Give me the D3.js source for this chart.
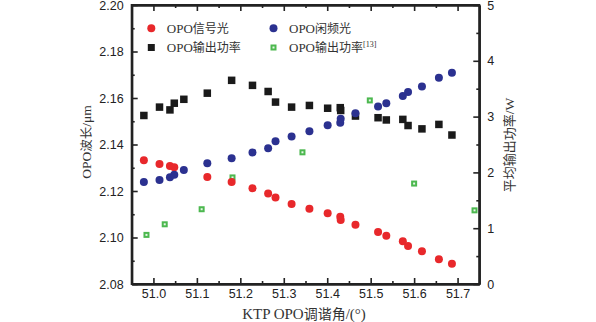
<!DOCTYPE html>
<html><head><meta charset="utf-8">
<script src="https://cdn.jsdelivr.net/npm/d3@7"></script>
<style>
html,body{margin:0;padding:0;background:#fff;}
svg{display:block;}
</style></head>
<body>
<svg id="c" width="596" height="322"></svg>
<script>
// ---- data ----
const angles = [50.978, 51.014, 51.038, 51.048, 51.070, 51.124, 51.180, 51.228, 51.264, 51.281, 51.318, 51.359, 51.401, 51.430, 51.431, 51.465, 51.517, 51.536, 51.574, 51.586, 51.618, 51.657, 51.687];
const signalAngles = [50.978, 51.014, 51.038, 51.048, 51.124, 51.180, 51.228, 51.264, 51.281, 51.318, 51.359, 51.401, 51.430, 51.431, 51.465, 51.517, 51.536, 51.574, 51.586, 51.618, 51.657, 51.687];
const signalWl = [2.1332, 2.1316, 2.1308, 2.1302, 2.1260, 2.1239, 2.1212, 2.1189, 2.1172, 2.1144, 2.1124, 2.1104, 2.1089, 2.1075, 2.1055, 2.1024, 2.1008, 2.0984, 2.0963, 2.0941, 2.0906, 2.0887];
const idlerWl = [2.1239, 2.1247, 2.1259, 2.1270, 2.1290, 2.1319, 2.1341, 2.1366, 2.1384, 2.1414, 2.1434, 2.1457, 2.1483, 2.1494, 2.1511, 2.1534, 2.1563, 2.1577, 2.1609, 2.1626, 2.1649, 2.1687, 2.1709];
const power = [3.02, 3.17, 3.12, 3.24, 3.31, 3.42, 3.65, 3.56, 3.45, 3.26, 3.17, 3.20, 3.15, 3.16, 3.11, 3.01, 2.98, 2.94, 2.95, 2.84, 2.78, 2.86, 2.67];
const refAngles = [50.984, 51.026, 51.111, 51.182, 51.343, 51.498, 51.600, 51.739];
const refPower = [0.88, 1.07, 1.34, 1.91, 2.36, 3.29, 1.80, 1.32];
const xTicks = [51.0, 51.1, 51.2, 51.3, 51.4, 51.5, 51.6, 51.7];
const yLTicks = [2.08, 2.10, 2.12, 2.14, 2.16, 2.18, 2.20];
const yRTicks = [0, 1, 2, 3, 4, 5];
const legendItems = [
  {name:"OPO", cjk:"信号光", sup:"", kind:"signal"},
  {name:"OPO", cjk:"闲频光", sup:"", kind:"idler"},
  {name:"OPO", cjk:"输出功率", sup:"", kind:"power"},
  {name:"OPO", cjk:"输出功率", sup:"[13]", kind:"ref"}
];

// ---- layout ----
const L = 131.7, R = 479.3, T = 5, B = 284;
const colors = {signal:"#e8282b", idler:"#2b3190", power:"#1a1a1a", ref:"#4cb84f"};
const svg = d3.select("#c");
const x = d3.scaleLinear().domain([50.95, 51.75]).range([L, R]);
const yL = d3.scaleLinear().domain([2.08, 2.20]).range([B, T]);
const yR = d3.scaleLinear().domain([0, 5]).range([B, T]);

const tickFont = "'Liberation Sans', Arial, sans-serif";
const serif = "'Liberation Serif', 'Times New Roman', serif";
const cjk = "'Noto Sans CJK SC', sans-serif";
const axCol = "#222";

function range(a, b, s){ const out=[]; for(let v=a; v<=b+1e-9; v+=s) out.push(+v.toFixed(4)); return out; }
const xMinor = range(50.95, 51.75, 0.1).filter(v=>v>50.95+1e-6 && v<51.75-1e-6);
const yLMinor = range(2.09, 2.19, 0.02);
const yRMinor = range(0.5, 4.5, 1);

// bottom axis
const gB = svg.append("g").attr("transform", `translate(0,${B})`)
  .call(d3.axisBottom(x).tickValues(xTicks).tickFormat(d3.format(".1f")).tickSizeInner(-6).tickSizeOuter(0).tickPadding(5));
const gBm = svg.append("g").attr("transform", `translate(0,${B})`)
  .call(d3.axisBottom(x).tickValues(xMinor).tickFormat("").tickSizeInner(-3).tickSizeOuter(0));
// top axis
const gT = svg.append("g").attr("transform", `translate(0,${T})`)
  .call(d3.axisTop(x).tickValues(xTicks).tickFormat("").tickSizeInner(-6).tickSizeOuter(0));
const gTm = svg.append("g").attr("transform", `translate(0,${T})`)
  .call(d3.axisTop(x).tickValues(xMinor).tickFormat("").tickSizeInner(-3).tickSizeOuter(0));
// left axis
const gL = svg.append("g").attr("transform", `translate(${L},0)`)
  .call(d3.axisLeft(yL).tickValues(yLTicks).tickFormat(d3.format(".2f")).tickSizeInner(-6).tickSizeOuter(0).tickPadding(8));
const gLm = svg.append("g").attr("transform", `translate(${L},0)`)
  .call(d3.axisLeft(yL).tickValues(yLMinor).tickFormat("").tickSizeInner(-3).tickSizeOuter(0));
// right axis
const gR = svg.append("g").attr("transform", `translate(${R},0)`)
  .call(d3.axisRight(yR).tickValues(yRTicks).tickFormat(d3.format("d")).tickSizeInner(-6).tickSizeOuter(0).tickPadding(8));
const gRm = svg.append("g").attr("transform", `translate(${R},0)`)
  .call(d3.axisRight(yR).tickValues(yRMinor).tickFormat("").tickSizeInner(-3).tickSizeOuter(0));

[gB,gBm,gT,gTm,gL,gLm,gR,gRm].forEach(g=>{
  g.select(".domain").attr("stroke", axCol).attr("stroke-width", 2);
  g.selectAll(".tick line").attr("stroke", axCol).attr("stroke-width", 1.6);
  g.selectAll(".tick text").attr("fill", "#222").style("font-family", tickFont).style("font-size", "12.5px");
});
// close the corners
svg.append("rect").attr("x", L).attr("y", T).attr("width", R-L).attr("height", B-T)
  .attr("fill","none").attr("stroke", axCol).attr("stroke-width", 2);

// ---- marks ----
const sq = 7.5, gsq = 6;
svg.append("g").selectAll("rect").data(angles.map((a,i)=>({a, v:power[i]}))).join("rect")
  .attr("x", d=>x(d.a)-sq/2).attr("y", d=>yR(d.v)-sq/2).attr("width", sq).attr("height", sq)
  .attr("fill", colors.power);
svg.append("g").selectAll("rect").data(refAngles.map((a,i)=>({a, v:refPower[i]}))).join("rect")
  .attr("x", d=>x(d.a)-gsq/2+1).attr("y", d=>yR(d.v)-gsq/2+1).attr("width", gsq-2).attr("height", gsq-2)
  .attr("fill", "#e8f6e8").attr("stroke", colors.ref).attr("stroke-width", 2);
svg.append("g").selectAll("circle").data(signalAngles.map((a,i)=>({a, v:signalWl[i]}))).join("circle")
  .attr("cx", d=>x(d.a)).attr("cy", d=>yL(d.v)).attr("r", 4).attr("fill", colors.signal);
svg.append("g").selectAll("circle").data(angles.map((a,i)=>({a, v:idlerWl[i]}))).join("circle")
  .attr("cx", d=>x(d.a)).attr("cy", d=>yL(d.v)).attr("r", 4).attr("fill", colors.idler);

// ---- legend ----
const legPos = [[151.3, 28.3],[273.5, 28.3],[151.3, 47.5],[273.5, 47.5]];
const leg = svg.append("g");
legendItems.forEach((it, i)=>{
  const [mx, my] = legPos[i];
  if (it.kind==="signal" || it.kind==="idler") {
    leg.append("circle").attr("cx", mx).attr("cy", my).attr("r", 4).attr("fill", colors[it.kind]);
  } else if (it.kind==="power") {
    leg.append("rect").attr("x", mx-3.5).attr("y", my-3.5).attr("width", 7).attr("height", 7).attr("fill", colors.power);
  } else {
    leg.append("rect").attr("x", mx-2).attr("y", my-2).attr("width", 4).attr("height", 4)
      .attr("fill", "#e8f6e8").attr("stroke", colors.ref).attr("stroke-width", 2);
  }
  const t = leg.append("text").attr("x", mx+15.5).attr("y", my+4.5).attr("fill", "#333");
  t.append("tspan").text(it.name).style("font-family", serif).style("font-size", "13px");
  t.append("tspan").text(it.cjk).style("font-family", cjk).style("font-size", "12px");
  if (it.sup) t.append("tspan").text(it.sup).attr("dy", -5).style("font-family", serif).style("font-size", "8px");
});

// ---- axis titles ----
const yl = svg.append("text").attr("transform", `translate(91,142) rotate(-90)`).attr("text-anchor","middle").attr("fill","#333");
yl.append("tspan").text("OPO").style("font-family", serif).style("font-size","13.5px");
yl.append("tspan").text("波长").style("font-family", cjk).style("font-size","12.5px");
yl.append("tspan").text("/μm").style("font-family", serif).style("font-size","13.5px");

const yr = svg.append("text").attr("transform", `translate(514,145) rotate(-90)`).attr("text-anchor","middle").attr("fill","#333");
yr.append("tspan").text("平均输出功率").style("font-family", cjk).style("font-size","13px");
yr.append("tspan").text("/W").style("font-family", serif).style("font-size","13.5px");

const xl = svg.append("text").attr("x", 304).attr("y", 319).attr("text-anchor","middle").attr("fill","#333");
xl.append("tspan").text("KTP OPO").style("font-family", serif).style("font-size","15px");
xl.append("tspan").text("调谐角").style("font-family", cjk).style("font-size","14px");
xl.append("tspan").text("/(°)").style("font-family", serif).style("font-size","15px");
</script>
</body></html>
